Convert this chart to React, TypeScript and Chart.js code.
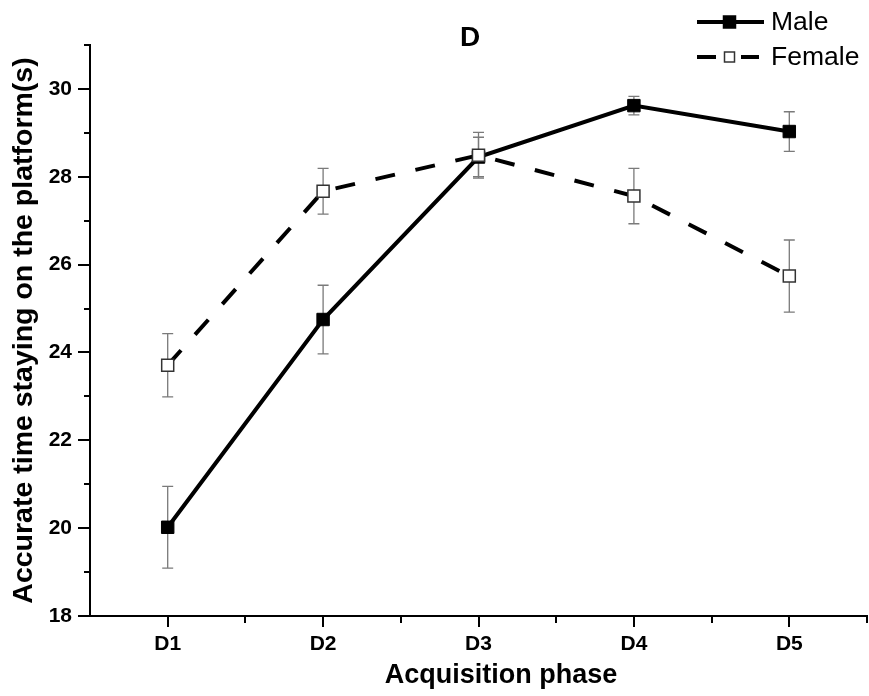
import React, { useEffect, useRef } from 'react';
import { Chart, registerables } from 'chart.js';

Chart.register(...registerables);

// ---- data ----
const categories = ['D1', 'D2', 'D3', 'D4', 'D5'];
const seriesLabels = ['Male', 'Female'];
const maleValues = [20.02, 24.75, 28.45, 29.62, 29.03];
const maleErrors = [0.93, 0.78, 0.45, 0.21, 0.45];
const femaleValues = [23.71, 27.67, 28.49, 27.56, 25.74];
const femaleErrors = [0.72, 0.52, 0.52, 0.63, 0.82];
const yMajorTicks = [18, 20, 22, 24, 26, 28, 30];
const yMinorTicks = [19, 21, 23, 25, 27, 29, 31];
const xMinorTicks = [0.5, 1.5, 2.5, 3.5, 4.5];
const yMin = 18;
const yMax = 31;
const chartTitle = 'D';
const xTitle = 'Acquisition phase';
const yTitle = 'Accurate time staying on the platform(s)';

const FONT = '"Liberation Sans", Arial, Helvetica, sans-serif';

const errorBarPlugin = {
  id: 'errorBars',
  beforeDatasetsDraw(chart: any) {
    const { ctx, scales } = chart;
    const x = scales.x;
    const y = scales.y;
    ctx.save();
    ctx.strokeStyle = '#7a7a7a';
    ctx.lineWidth = 1.3;
    chart.data.datasets.forEach((ds: any) => {
      const errs: number[] = ds.errors || [];
      ds.data.forEach((v: number, i: number) => {
        const e = errs[i] || 0;
        const px = x.getPixelForValue(i);
        const top = y.getPixelForValue(v + e);
        const bot = y.getPixelForValue(v - e);
        ctx.beginPath();
        ctx.moveTo(px, top);
        ctx.lineTo(px, bot);
        ctx.moveTo(px - 5.5, top);
        ctx.lineTo(px + 5.5, top);
        ctx.moveTo(px - 5.5, bot);
        ctx.lineTo(px + 5.5, bot);
        ctx.stroke();
      });
    });
    ctx.restore();
  },
};

const decorPlugin = {
  id: 'decor',
  afterDraw(chart: any) {
    const { ctx, scales, chartArea } = chart;
    const x = scales.x;
    const y = scales.y;
    ctx.save();
    ctx.strokeStyle = '#000';
    ctx.lineWidth = 2;
    yMinorTicks.forEach((v) => {
      const py = Math.round(y.getPixelForValue(v));
      ctx.beginPath();
      ctx.moveTo(chartArea.left - 6, py);
      ctx.lineTo(chartArea.left, py);
      ctx.stroke();
    });
    xMinorTicks.forEach((v) => {
      const px = Math.round(x.getPixelForValue(v));
      ctx.beginPath();
      ctx.moveTo(px, chartArea.bottom);
      ctx.lineTo(px, chartArea.bottom + 7);
      ctx.stroke();
    });
    ctx.fillStyle = '#000';
    ctx.font = `bold 28px ${FONT}`;
    ctx.textAlign = 'center';
    ctx.textBaseline = 'alphabetic';
    ctx.fillText(chartTitle, 470, 46);
    ctx.font = `bold 27px ${FONT}`;
    ctx.fillText(xTitle, 501, 683);
    const rows = [22, 57];
    chart.data.datasets.forEach((ds: any, i: number) => {
      const ly = rows[i];
      ctx.strokeStyle = ds.borderColor;
      ctx.lineWidth = 4;
      ctx.lineCap = 'butt';
      ctx.beginPath();
      if (ds.borderDash && ds.borderDash.length) {
        ctx.moveTo(697, ly);
        ctx.lineTo(716, ly);
        ctx.moveTo(741, ly);
        ctx.lineTo(759, ly);
      } else {
        ctx.moveTo(697, ly);
        ctx.lineTo(764, ly);
      }
      ctx.stroke();
      const s = ds.borderDash && ds.borderDash.length ? 10 : 12;
      ctx.fillStyle = ds.pointBackgroundColor;
      ctx.fillRect(729.5 - s / 2, ly - s / 2, s, s);
      ctx.strokeStyle = ds.pointBorderColor;
      ctx.lineWidth = 1.5;
      ctx.strokeRect(729.5 - s / 2, ly - s / 2, s, s);
      ctx.fillStyle = '#000';
      ctx.font = `26.5px ${FONT}`;
      ctx.textAlign = 'left';
      ctx.textBaseline = 'middle';
      ctx.fillText(ds.label, 771, ly + 1);
    });
    ctx.restore();
  },
};

export default function App() {
  const canvasRef = useRef<HTMLCanvasElement | null>(null);

  useEffect(() => {
    document.body.style.margin = '0';
    const canvas = canvasRef.current;
    if (!canvas) return;
    const chart = new Chart(canvas, {
      type: 'line',
      data: {
        labels: categories,
        datasets: [
          {
            label: seriesLabels[0],
            data: maleValues,
            errors: maleErrors,
            borderColor: '#000',
            borderWidth: 4,
            pointStyle: 'rect',
            pointRadius: 8.8,
            pointBackgroundColor: '#000',
            pointBorderColor: '#000',
            pointBorderWidth: 1,
            tension: 0,
            order: 2,
          } as any,
          {
            label: seriesLabels[1],
            data: femaleValues,
            errors: femaleErrors,
            borderColor: '#000',
            borderWidth: 4,
            borderDash: [20, 21],
            borderCapStyle: 'butt',
            pointStyle: 'rect',
            pointRadius: 8.5,
            pointBackgroundColor: '#fff',
            pointBorderColor: '#333',
            pointBorderWidth: 1.5,
            tension: 0,
            order: 1,
          } as any,
        ],
      },
      options: {
        responsive: false,
        maintainAspectRatio: false,
        animation: false,
        layout: { autoPadding: false, padding: { top: 45, right: 2, left: 0, bottom: 0 } },
        plugins: {
          legend: { display: false },
          title: { display: false },
          tooltip: { enabled: false },
        },
        scales: {
          x: {
            type: 'category',
            offset: true,
            afterFit: (scale: any) => {
              scale.height = 80;
              scale.paddingLeft = 0;
              scale.paddingRight = 0;
            },
            grid: {
              display: true,
              drawOnChartArea: false,
              drawTicks: true,
              tickLength: 11,
              color: '#000',
              lineWidth: 2,
              offset: false,
            },
            border: { display: true, color: '#000', width: 2 },
            ticks: {
              color: '#000',
              font: { family: FONT, size: 21, weight: 'bold' },
              padding: 5,
              maxRotation: 0,
            },
            title: { display: false },
          },
          y: {
            type: 'linear',
            min: yMin,
            max: yMax,
            afterFit: (scale: any) => {
              scale.width = 90;
              scale.paddingTop = 0;
              scale.paddingBottom = 0;
            },
            afterBuildTicks: (scale: any) => {
              scale.ticks = yMajorTicks.map((value) => ({ value }));
            },
            grid: {
              display: true,
              drawOnChartArea: false,
              drawTicks: true,
              tickLength: 12,
              color: '#000',
              lineWidth: 2,
            },
            border: { display: true, color: '#000', width: 2 },
            ticks: {
              color: '#000',
              font: { family: FONT, size: 21, weight: 'bold' },
              padding: 6,
            },
            title: {
              display: true,
              text: yTitle,
              color: '#000',
              font: { family: FONT, size: 28.5, weight: 'bold' },
              padding: { top: 7, bottom: 0 },
            },
          },
        },
      } as any,
      plugins: [errorBarPlugin, decorPlugin],
    });
    return () => chart.destroy();
  }, []);

  return (
    <div style={{ width: 869, height: 696 }}>
      <canvas ref={canvasRef} width={869} height={696} style={{ display: 'block' }} />
    </div>
  );
}
